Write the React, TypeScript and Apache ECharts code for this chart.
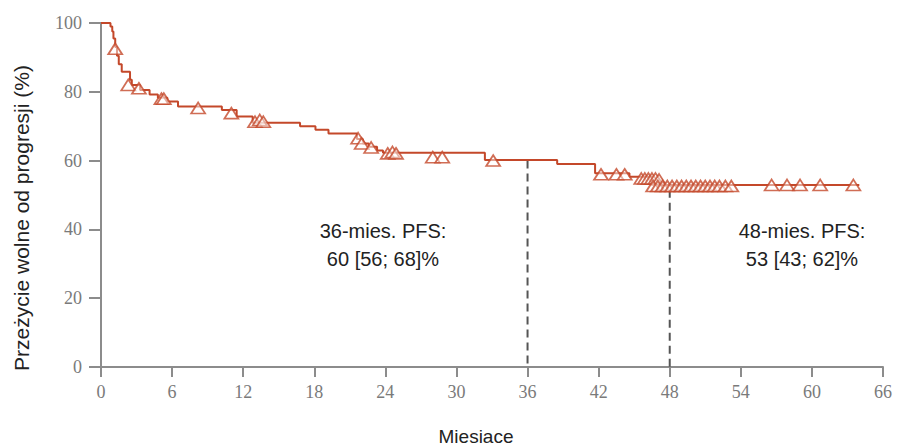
import React, { useEffect, useRef } from "react";
import * as echarts from "echarts";

// Kaplan–Meier step curve: [month, progression-free survival %]
const curveMonths = [0, 0.8, 0.95, 1.05, 1.2, 1.35, 1.5, 1.75, 2.45, 2.6, 3.3, 4.1, 4.8, 5.6, 6.5, 10.2, 11.45, 12.8, 16.8, 18.1, 19.2, 21.6, 22.1, 22.6, 23.3, 23.8, 32.4, 38.5, 41.7, 44.6, 46.5, 47.3, 64];
const curveValues = [100, 99, 97.5, 95.5, 93, 90.5, 88, 85.8, 83.5, 82, 80.5, 79.2, 78.3, 77.2, 75.7, 74.7, 72.8, 71, 70, 69, 67.9, 66.3, 65, 64, 62.9, 62.3, 60.2, 59, 56.3, 55.3, 53.3, 52.9, 52.9];

// Censored observations
const censorMonths = [1.2, 2.3, 3.2, 5.1, 5.3, 8.2, 11.0, 13.0, 13.4, 13.7, 21.7, 22.0, 22.8, 24.2, 24.6, 24.9, 28.0, 28.8, 33.1, 42.2, 43.5, 44.2, 45.6, 45.9, 46.2, 46.5, 46.8, 47.1, 46.6, 47.0, 47.4, 47.8, 48.2, 48.6, 49.0, 49.4, 49.8, 50.2, 50.6, 51.0, 51.4, 51.8, 52.2, 52.7, 53.2, 56.6, 57.9, 59.0, 60.7, 63.5];
const censorValues = [92.5, 82, 81, 78, 78, 75.3, 73.8, 71.3, 71.8, 71.3, 66.5, 65, 63.8, 62.1, 62.5, 62.1, 61, 61, 60, 56, 56, 56, 54.8, 54.8, 54.8, 54.8, 54.8, 54.5, 52.6, 52.6, 52.6, 52.6, 52.6, 52.6, 52.6, 52.6, 52.6, 52.6, 52.6, 52.6, 52.6, 52.6, 52.6, 52.6, 52.6, 52.9, 52.9, 52.9, 52.9, 52.9];

// Landmark reference lines: [month, top of the dashed drop line]
const landmarkMonths = [36, 48];
const landmarkTops = [60, 51.5];

const landmarkLabels = [
  "36-mies. PFS:\n60 [56; 68]%",
  "48-mies. PFS:\n53 [43; 62]%",
];

const xTitle = "Miesiace";
const yTitle = "Przeżycie wolne od progresji (%)";

const RED = "#c4482a";
const AXIS = "#8c8c8c";

export default function App() {
  const ref = useRef<HTMLDivElement>(null);

  useEffect(() => {
    if (!ref.current) return;
    const chart = echarts.init(ref.current, undefined, { renderer: "svg" });

    const curve = curveMonths.map((m, i) => [m, curveValues[i]]);
    const censors = censorMonths.map((m, i) => [m, censorValues[i]]);

    const dashSeries = landmarkMonths.map((m, i) => ({
      type: "line",
      data: [
        [m, landmarkTops[i]],
        [m, 0],
      ],
      symbol: "none",
      silent: true,
      z: 1,
      lineStyle: { color: "#555", width: 2, type: [8, 5] },
    }));

    const labelStyle = {
      fill: "#222",
      font: "20px 'Liberation Sans'",
      align: "center",
      lineHeight: 28,
    };

    chart.setOption({
      animation: false,
      backgroundColor: "#fff",
      grid: { left: 101, right: 14, top: 23, bottom: 81 },
      xAxis: {
        type: "value",
        min: 0,
        max: 66,
        interval: 6,
        axisLine: { lineStyle: { color: AXIS, width: 2 } },
        axisTick: { length: 10, lineStyle: { color: AXIS, width: 2 } },
        splitLine: { show: false },
        axisLabel: {
          margin: 16,
          color: "#7a7a7a",
          fontFamily: "Liberation Serif",
          fontSize: 18,
        },
      },
      yAxis: {
        type: "value",
        min: 0,
        max: 100,
        interval: 20,
        axisLine: { show: true, lineStyle: { color: AXIS, width: 2 } },
        axisTick: { show: true, length: 12, lineStyle: { color: AXIS, width: 2 } },
        splitLine: { show: false },
        axisLabel: {
          margin: 19,
          color: "#7a7a7a",
          fontFamily: "Liberation Serif",
          fontSize: 18,
        },
      },
      series: [
        ...dashSeries,
        {
          type: "line",
          data: curve,
          step: "end",
          symbol: "none",
          z: 3,
          lineStyle: { color: RED, width: 2 },
        },
        {
          type: "scatter",
          data: censors,
          symbol: "triangle",
          symbolSize: [14, 11],
          z: 4,
          itemStyle: { color: "rgba(255,255,255,0.6)", borderColor: RED, borderWidth: 1.7 },
        },
      ],
      graphic: [
        {
          type: "text",
          x: 383,
          y: 217,
          style: { text: landmarkLabels[0], ...labelStyle },
        },
        {
          type: "text",
          x: 802,
          y: 217,
          style: { text: landmarkLabels[1], ...labelStyle },
        },
        {
          type: "text",
          x: 476,
          y: 427,
          style: {
            text: xTitle,
            fill: "#222",
            font: "19px 'Liberation Sans'",
            align: "center",
          },
        },
        {
          type: "text",
          x: 11,
          y: 218,
          rotation: Math.PI / 2,
          style: {
            text: yTitle,
            fill: "#222",
            font: "21px 'Liberation Sans'",
            align: "center",
          },
        },
      ],
    });

    return () => chart.dispose();
  }, []);

  return (
    <div
      ref={ref}
      style={{ position: "absolute", left: 0, top: 0, width: 897, height: 448 }}
    />
  );
}
